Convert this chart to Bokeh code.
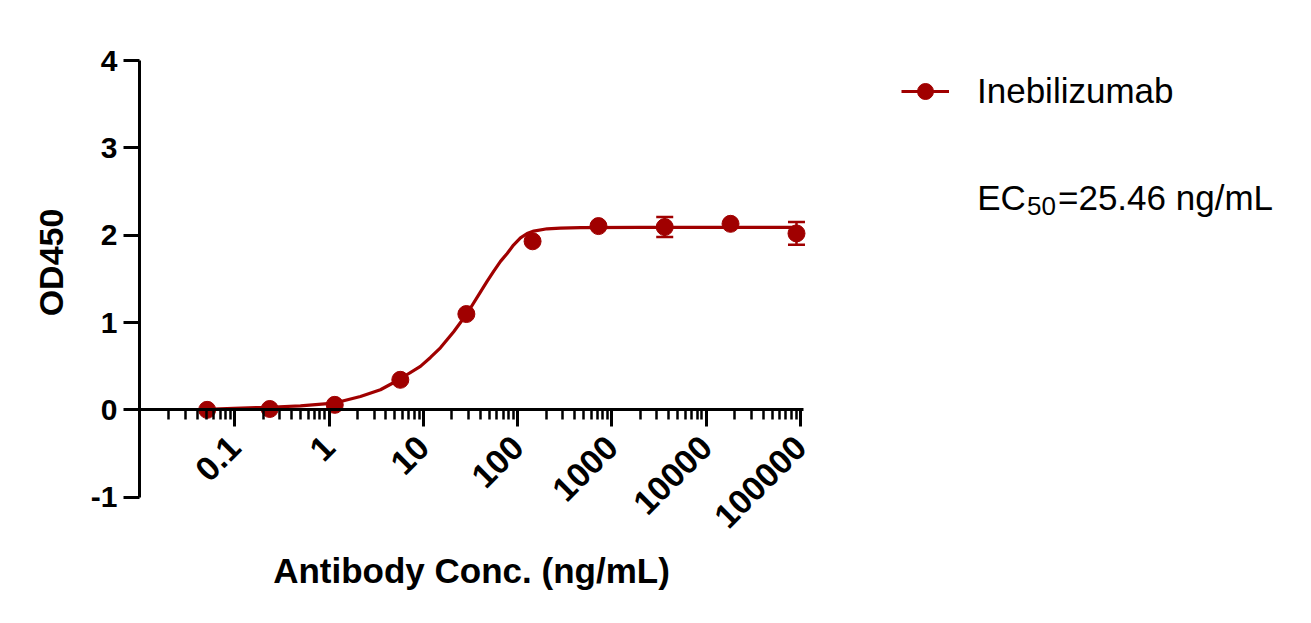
import math
from bokeh.plotting import figure
from bokeh.models import (FixedTicker, Legend, LegendItem, Label, Whisker,
                          TeeHead, ColumnDataSource, Range1d)
from bokeh.embed import file_html
from bokeh.resources import INLINE

# ---- data ----
conc = [0.051, 0.235, 1.15, 5.7, 28.6, 144, 720, 3630, 18100, 90600]
od = [0.00, 0.01, 0.057, 0.344, 1.097, 1.93, 2.104, 2.093, 2.13, 2.02]
od_err = [0, 0, 0, 0, 0, 0, 0, 0.115, 0, 0.13]

curve_conc = [0.0509, 0.0975, 0.2296, 0.4977, 1.122, 2.153, 3.508, 5.272,
              9.311, 11.9, 15.17, 20.99, 29.11, 40.27, 47.4, 55.85, 65.8,
              77.45, 90.4, 107.2, 126.0, 148.3, 205.6, 284.4, 464.5, 1995,
              90600]
curve_od = [0.007, 0.018, 0.030, 0.046, 0.076, 0.153, 0.230, 0.333, 0.498,
            0.600, 0.710, 0.895, 1.103, 1.347, 1.470, 1.588, 1.700, 1.791,
            1.887, 1.970, 2.019, 2.047, 2.073, 2.081, 2.087, 2.090, 2.090]

x_major = [0.1, 1, 10, 100, 1000, 10000, 100000]
x_labels = ["0.1", "1", "10", "100", "1000", "10000", "100000"]
y_ticks = [-1, 0, 1, 2, 3, 4]
y_labels = ["-1", "0", "1", "2", "3", "4"]
series_name = "Inebilizumab"
x_title = "Antibody Conc. (ng/mL)"
y_title = "OD450"
ec50_value = "=25.46 ng/mL"

RED = "#A00000"
FONT = "Liberation Sans"

# the frame covers the whole canvas; axes are placed and limited explicitly
X_LO, X_HI = 10 ** -2.01, 10 ** 5.03
p = figure(width=1295, height=600, x_axis_type="log",
           x_range=Range1d(10 ** -3.484, 10 ** 10.249),
           y_range=Range1d(-2.183, 4.687),
           output_backend="svg", toolbar_location=None,
           min_border_left=0, min_border_right=0,
           min_border_top=0, min_border_bottom=0)
p.outline_line_color = None
p.grid.visible = False
p.background_fill_color = "white"

# x axis crossing at y = 0
minor = [m * 10 ** d for d in range(-2, 5) for m in range(2, 10)]
xa = p.xaxis[0]
xa.fixed_location = 0
xa.bounds = (X_LO, X_HI)
xa.ticker = FixedTicker(ticks=x_major, minor_ticks=minor)
xa.major_label_overrides = {t: l for t, l in zip(x_major, x_labels)}
xa.axis_line_width = 3
xa.axis_line_color = "black"
xa.major_tick_line_width = 3
xa.major_tick_in = 0
xa.major_tick_out = 17
xa.minor_tick_line_width = 2.5
xa.minor_tick_in = 0
xa.minor_tick_out = 10
xa.major_label_orientation = math.pi / 4
xa.major_label_standoff = 15
xa.major_label_text_font = FONT
xa.major_label_text_font_style = "bold"
xa.major_label_text_font_size = "34px"
xa.major_label_text_color = "black"
xa.axis_label = x_title
xa.axis_label_text_font = FONT
xa.axis_label_text_font_style = "bold"
xa.axis_label_text_font_size = "35px"
xa.axis_label_text_color = "black"
xa.axis_label_standoff = 10

# y axis at the left end of the x axis
ya = p.yaxis[0]
ya.fixed_location = X_LO
ya.bounds = (-1, 4)
ya.ticker = FixedTicker(ticks=y_ticks)
ya.major_label_overrides = {t: l for t, l in zip(y_ticks, y_labels)}
ya.axis_line_width = 3
ya.major_tick_line_width = 3
ya.major_tick_in = 0
ya.major_tick_out = 16
ya.minor_tick_line_color = None
ya.major_label_standoff = 6
ya.major_label_text_font = FONT
ya.major_label_text_font_style = "bold"
ya.major_label_text_font_size = "30px"
ya.major_label_text_color = "black"

p.add_layout(Label(x=50, y=338, x_units="screen", y_units="screen",
                   text=y_title, angle=math.pi / 2, text_align="center",
                   text_baseline="middle", text_font=FONT,
                   text_font_style="bold", text_font_size="34px",
                   text_color="black"))

# fitted curve, points, error bars
line_r = p.line(curve_conc, curve_od, line_width=3.2, line_color=RED)
pts_r = p.scatter(conc, od, size=17, fill_color=RED, line_color=RED)

eb_x = [c for c, e in zip(conc, od_err) if e > 0]
eb_hi = [o + e for o, e in zip(od, od_err) if e > 0]
eb_lo = [o - e for o, e in zip(od, od_err) if e > 0]
src = ColumnDataSource(data=dict(base=eb_x, upper=eb_hi, lower=eb_lo))
p.add_layout(Whisker(source=src, base="base", upper="upper", lower="lower",
                     dimension="height", line_color=RED, line_width=2.5,
                     upper_head=TeeHead(size=17, line_color=RED, line_width=2.5),
                     lower_head=TeeHead(size=17, line_color=RED, line_width=2.5)))

legend = Legend(items=[LegendItem(label=series_name, renderers=[line_r, pts_r])],
                location=(901, 489), glyph_width=48, glyph_height=40,
                label_height=40, label_standoff=28, padding=0, margin=0,
                spacing=0, border_line_color=None, background_fill_alpha=0,
                label_text_font=FONT, label_text_font_size="35px",
                label_text_color="black")
p.add_layout(legend)

p.add_layout(Label(x=976.7, y=403, x_units="screen", y_units="screen",
                   text="EC", text_font=FONT, text_font_size="35px",
                   text_baseline="alphabetic", text_color="black"))
p.add_layout(Label(x=1026.5, y=395, x_units="screen", y_units="screen",
                   text="50", text_font=FONT, text_font_size="26px",
                   text_baseline="alphabetic", text_color="black"))
p.add_layout(Label(x=1057.5, y=403, x_units="screen", y_units="screen",
                   text=ec50_value, text_font=FONT, text_font_size="35px",
                   text_baseline="alphabetic", text_color="black"))

open("out.html", "w").write(file_html(p, INLINE))
